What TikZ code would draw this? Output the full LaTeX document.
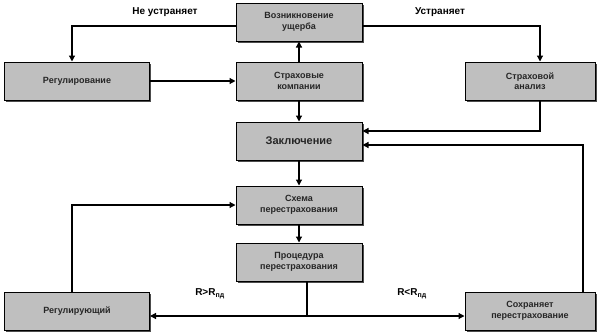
\documentclass[tikz,border=0pt]{standalone}
\usepackage{fontspec}
\setmainfont{Liberation Sans}
\usetikzlibrary{arrows.meta,calc,shadows}
\begin{document}
\begin{tikzpicture}[x=1pt,y=-1pt,
  box/.style={draw=black,line width=1pt,fill=gray!50,minimum width=#1,minimum height=38pt,
    align=center,font=\bfseries\fontsize{9}{10.5}\selectfont,text=black!85,inner sep=1pt,
    drop shadow={shadow xshift=1.5pt,shadow yshift=-1.5pt,fill=black!70,opacity=1}},
  box/.default=126pt,
  conn/.style={line width=1.2pt,-{Triangle[length=6pt,width=6pt]}},
  line/.style={line width=1.2pt},
  lbl/.style={font=\bfseries\fontsize{10}{11}\selectfont}]
\useasboundingbox (0,0) rectangle (603,332);
\node[box] (t) at (299,22) {Возникновение\\ущерба};
\node[box=145pt] (l) at (77,81) {Регулирование};
\node[box] (c) at (299,81) {Страховые\\компании};
\node[box=130pt] (r) at (530,81) {Страховой\\анализ};
\node[box,font=\bfseries\fontsize{11}{12}\selectfont] (z) at (299,141) {Заключение};
\node[box] (s) at (299,205) {Схема\\перестрахования};
\node[box] (p) at (299,262) {Процедура\\перестрахования};
\node[box=145pt] (bl) at (77,311) {Регулирующий};
\node[box=130pt] (br) at (530,311) {Сохраняет\\перестрахование};
\coordinate (tl) at (236,26);
\coordinate (tr) at (362,26);
\draw[conn] (tl) -| (72,0 |- l.north);
\draw[conn] (tr) -| (540,0 |- r.north);
\node[lbl] (nu) at (165,12) {Не устраняет};
\node[lbl] (u) at (440,12) {Устраняет};
\draw[conn] (l.east) -- (c.west);
\draw[conn] (c.north) -- (t.south);
\draw[conn] (c.south) -- (z.north);
\coordinate (rz) at (540,131);
\draw[conn] (540,0 |- r.south) |- (z.east |- rz);
\coordinate (bz) at (583,145);
\draw[conn] (583,0 |- br.north) |- (z.east |- bz);
\draw[conn] (z.south) -- (s.north);
\draw[conn] (s.south) -- (p.north);
\draw[conn] (72,0 |- bl.north) |- (s.west);
\coordinate (pm) at (307,316);
\draw[line] (307,0 |- p.south) -- (pm);
\draw[conn] (pm) -- (bl.east |- pm);
\draw[conn] (pm) -- (br.west |- pm);
\node[lbl] (rg) at (210,294) {R>R\textsubscript{пд}};
\node[lbl] (rl) at (412,294) {R<R\textsubscript{пд}};
\end{tikzpicture}
\end{document}
